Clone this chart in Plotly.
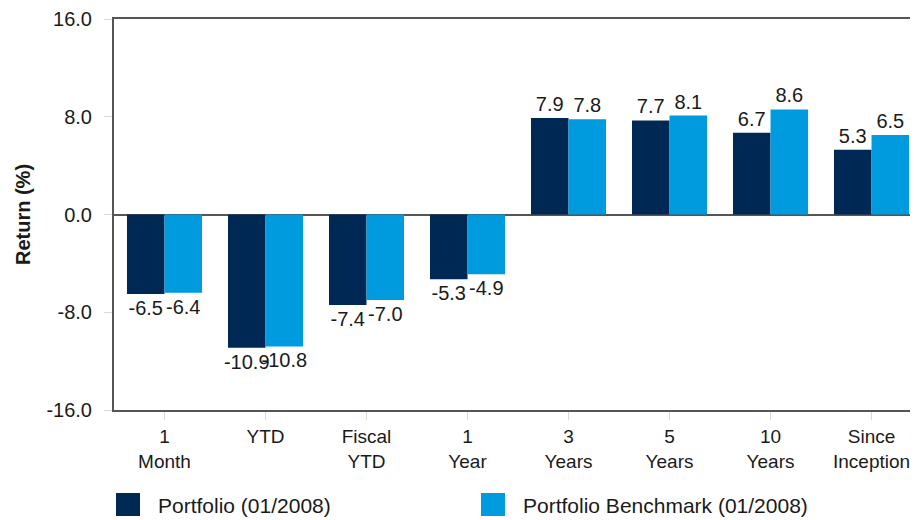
import plotly.graph_objects as go

categories = ["1<br>Month", "YTD", "Fiscal<br>YTD", "1<br>Year", "3<br>Years",
              "5<br>Years", "10<br>Years", "Since<br>Inception"]
portfolio = [-6.5, -10.9, -7.4, -5.3, 7.9, 7.7, 6.7, 5.3]
benchmark = [-6.4, -10.8, -7.0, -4.9, 7.8, 8.1, 8.6, 6.5]
series_names = ["Portfolio (01/2008)", "Portfolio Benchmark (01/2008)"]
colors = ["#002855", "#009ADE"]
y_ticks = [-16, -8, 0, 8, 16]
y_ticklabels = ["-16.0", "-8.0", "0.0", "8.0", "16.0"]

# page has an 8px body margin, so the figure is shrunk and shifted by that much
W, H = 910, 512
ML, MT, MB, MR = 106, 11, 110, 0
PW, PH = W - ML - MR, H - MT - MB

def px(x):  # page pixel x -> paper x
  return (x - 8 - ML) / PW

def py(y):  # page pixel y -> paper y
  return (H - MB - (y - 8)) / PH

fig = go.Figure()

for name, vals, col in zip(series_names, [portfolio, benchmark], colors):
  fig.add_trace(go.Bar(x=list(range(len(categories))), y=vals, name=name,
                       marker=dict(color=col, line=dict(width=0)),
                       text=["%.1f" % v for v in vals], textposition="outside",
                       constraintext="none", cliponaxis=False,
                       textfont=dict(size=20, color="#1a1a1a"),
                       showlegend=False))

# legend drawn by hand so the swatches can be big squares
leg_x = [116, 481]
for i, (name, col) in enumerate(zip(series_names, colors)):
  fig.add_shape(type="rect", xref="paper", yref="paper",
                x0=px(leg_x[i]), x1=px(leg_x[i] + 24), y0=py(493), y1=py(516),
                fillcolor=col, line=dict(width=0))
  fig.add_annotation(xref="paper", yref="paper", x=px(leg_x[i] + 40), y=py(505),
                     xanchor="left", yanchor="middle", text=name, showarrow=False,
                     font=dict(size=21, color="#1a1a1a"))

fig.update_layout(
  width=W, height=H,
  margin=dict(l=ML, r=MR, t=MT, b=MB),
  plot_bgcolor="white", paper_bgcolor="white",
  font=dict(family="Liberation Sans, Arial, sans-serif", size=20, color="#1a1a1a"),
  barmode="group", bargap=0.257, bargroupgap=0,
  showlegend=False,
)

fig.update_xaxes(range=[-0.5, 7.46], tickmode="array",
                 tickvals=list(range(len(categories))), ticktext=categories,
                 tickfont=dict(size=19),
                 showline=True, linecolor="#555555", linewidth=2, mirror=True,
                 ticks="outside", ticklen=8, tickcolor="#d9d9d9",
                 showgrid=False, zeroline=False)
fig.update_yaxes(range=[-16, 16], tickmode="array", tickvals=y_ticks, ticktext=y_ticklabels,
                 tickfont=dict(size=20),
                 showline=True, linecolor="#555555", linewidth=2,
                 ticks="outside", ticklen=8, tickcolor="#d9d9d9",
                 ticklabelstandoff=8,
                 showgrid=False, zeroline=True, zerolinecolor="#555555", zerolinewidth=2,
                 title=dict(text="<b>Return (%)</b>", font=dict(size=20), standoff=10))

fig.write_html("out.html")
